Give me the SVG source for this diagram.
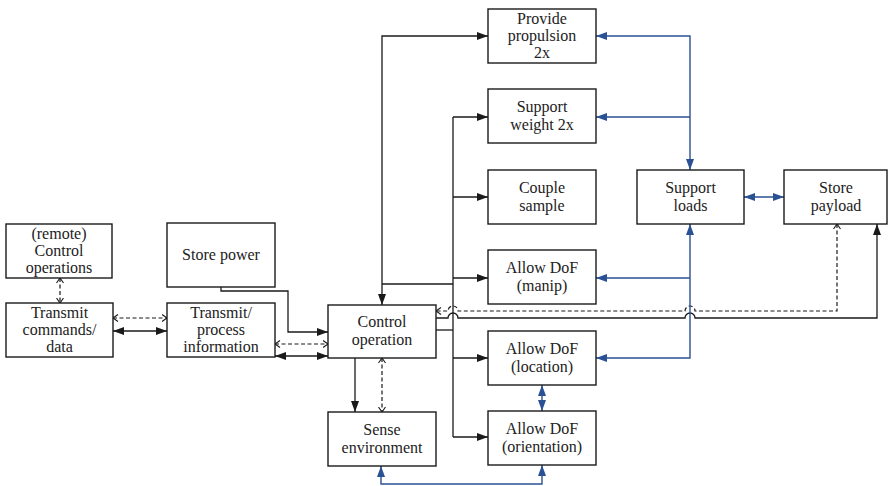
<svg xmlns="http://www.w3.org/2000/svg" width="888" height="486" viewBox="0 0 888 486">
<defs>
<style>
.box{fill:#fff;stroke:#1a1a1a;stroke-width:1.4}
.t{font-size:16px;fill:#222;text-anchor:middle}
.k{fill:none;stroke:#1a1a1a;stroke-width:1.3}
.d{fill:none;stroke:#1a1a1a;stroke-width:1.2;stroke-dasharray:4 2.5}
.b{fill:none;stroke:#2a5193;stroke-width:1.4}
</style>
<marker id="af" markerUnits="userSpaceOnUse" markerWidth="12" markerHeight="10" refX="11" refY="4" orient="auto-start-reverse"><path d="M0,0 L11,4 L0,8 z" fill="#1a1a1a"/></marker>
<marker id="ab" markerUnits="userSpaceOnUse" markerWidth="12" markerHeight="10" refX="11" refY="4" orient="auto-start-reverse"><path d="M0,0 L11,4 L0,8 z" fill="#2a5193"/></marker>
<marker id="ac" markerUnits="userSpaceOnUse" markerWidth="8" markerHeight="10" refX="5.5" refY="4" orient="auto-start-reverse"><path d="M0.5,0.5 L5.5,4 L0.5,7.5" fill="none" stroke="#1a1a1a" stroke-width="1.1"/></marker>
</defs>
<rect width="888" height="486" fill="#fff"/>

<g id="connectors">
<path class="k" d="M382,305 V36 H488" marker-start="url(#af)" marker-end="url(#af)"/>
<path class="k" d="M382,284 H453"/>
<path class="k" d="M453,117 V437"/>
<path class="k" d="M453,117 H488" marker-end="url(#af)"/>
<path class="k" d="M453,197 H488" marker-end="url(#af)"/>
<path class="k" d="M453,278 H488" marker-end="url(#af)"/>
<path class="k" d="M453,358 H488" marker-end="url(#af)"/>
<path class="k" d="M453,437 H488" marker-end="url(#af)"/>
<path class="k" d="M436,330 H453"/>
<path class="k" d="M436,318 H448 A5,5 0 0 1 458,318 H685 A5,5 0 0 1 695,318 H877 V224" marker-end="url(#af)"/>
<path class="d" d="M837,224 V311 H695 A5,5 0 0 0 685,311 H458 A5,5 0 0 0 448,311 H436" marker-start="url(#ac)" marker-end="url(#ac)"/>
<path class="k" d="M221,287 V291 H288 V332 H328" marker-end="url(#af)"/>
<path class="d" d="M275,344 H328" marker-start="url(#ac)" marker-end="url(#ac)"/>
<path class="k" d="M275,356 H328" marker-start="url(#af)" marker-end="url(#af)"/>
<path class="d" d="M113,318 H167" marker-start="url(#ac)" marker-end="url(#ac)"/>
<path class="k" d="M113,331 H167" marker-start="url(#af)" marker-end="url(#af)"/>
<path class="d" d="M60,278 V303" marker-start="url(#ac)" marker-end="url(#ac)"/>
<path class="k" d="M355,358 V412" marker-end="url(#af)"/>
<path class="d" d="M382,358 V412" marker-start="url(#ac)" marker-end="url(#ac)"/>
<path class="b" d="M596,36 H690 V170" marker-start="url(#ab)" marker-end="url(#ab)"/>
<path class="b" d="M690,117 H596" marker-end="url(#ab)"/>
<path class="b" d="M596,358 H690 V224" marker-start="url(#ab)" marker-end="url(#ab)"/>
<path class="b" d="M690,278 H596" marker-end="url(#ab)"/>
<path class="b" d="M744,197 H784" marker-start="url(#ab)" marker-end="url(#ab)"/>
<path class="b" d="M542,385 V411" marker-start="url(#ab)" marker-end="url(#ab)"/>
<path class="b" d="M381,466 V484 H542 V465" marker-start="url(#ab)" marker-end="url(#ab)"/>
</g>

<g font-family="Liberation Serif, DejaVu Serif, serif">
<g id="remote-control"><rect class="box" x="6" y="224" width="106" height="54"/>
<text class="t" x="59" y="239">(remote)</text><text class="t" x="59" y="256">Control</text><text class="t" x="59" y="273">operations</text></g>
<g id="transmit-commands"><rect class="box" x="6" y="303" width="107" height="54"/>
<text class="t" x="59.5" y="318">Transmit</text><text class="t" x="59.5" y="335">commands/</text><text class="t" x="59.5" y="352">data</text></g>
<g id="store-power"><rect class="box" x="167" y="223" width="108" height="64"/>
<text class="t" x="221" y="260">Store power</text></g>
<g id="transmit-process"><rect class="box" x="167" y="303" width="108" height="54"/>
<text class="t" x="221" y="318">Transmit/</text><text class="t" x="221" y="335">process</text><text class="t" x="221" y="352">information</text></g>
<g id="control-operation"><rect class="box" x="328" y="305" width="108" height="53"/>
<text class="t" x="382" y="327">Control</text><text class="t" x="382" y="345">operation</text></g>
<g id="sense-environment"><rect class="box" x="328" y="412" width="108" height="54"/>
<text class="t" x="382" y="435">Sense</text><text class="t" x="382" y="453">environment</text></g>
<g id="provide-propulsion"><rect class="box" x="488" y="9" width="108" height="54"/>
<text class="t" x="542" y="24">Provide</text><text class="t" x="542" y="41">propulsion</text><text class="t" x="542" y="58">2x</text></g>
<g id="support-weight"><rect class="box" x="488" y="89" width="108" height="54"/>
<text class="t" x="542" y="112">Support</text><text class="t" x="542" y="130">weight 2x</text></g>
<g id="couple-sample"><rect class="box" x="488" y="170" width="108" height="54"/>
<text class="t" x="542" y="193">Couple</text><text class="t" x="542" y="211">sample</text></g>
<g id="allow-dof-manip"><rect class="box" x="488" y="250" width="108" height="54"/>
<text class="t" x="542" y="273">Allow DoF</text><text class="t" x="542" y="291">(manip)</text></g>
<g id="allow-dof-location"><rect class="box" x="488" y="331" width="108" height="54"/>
<text class="t" x="542" y="354">Allow DoF</text><text class="t" x="542" y="372">(location)</text></g>
<g id="allow-dof-orientation"><rect class="box" x="488" y="411" width="108" height="54"/>
<text class="t" x="542" y="434">Allow DoF</text><text class="t" x="542" y="452">(orientation)</text></g>
<g id="support-loads"><rect class="box" x="637" y="170" width="107" height="54"/>
<text class="t" x="690.5" y="193">Support</text><text class="t" x="690.5" y="211">loads</text></g>
<g id="store-payload"><rect class="box" x="784" y="170" width="103" height="54"/>
<text class="t" x="836" y="193">Store</text><text class="t" x="836" y="211">payload</text></g>
</g>
</svg>
